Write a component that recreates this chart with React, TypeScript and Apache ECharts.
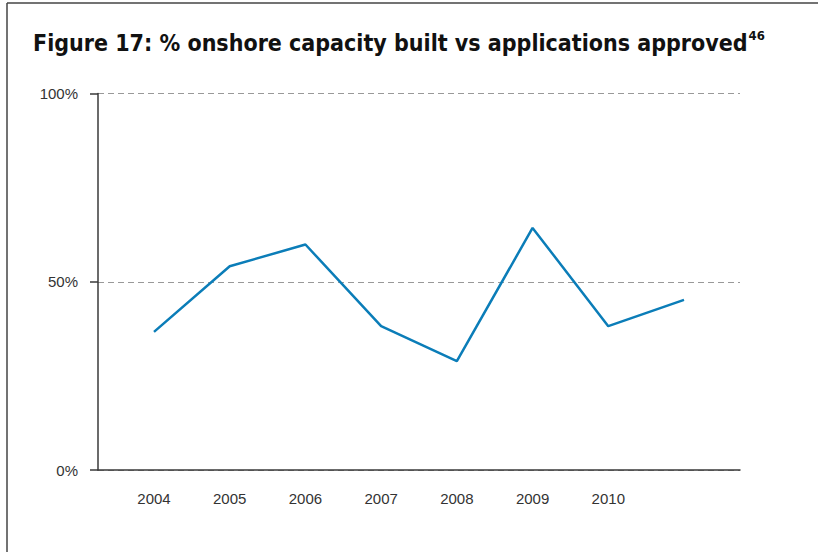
import React, { useEffect, useRef } from 'react';
import * as echarts from 'echarts';

const titleText = 'Figure 17: % onshore capacity built vs applications approved';
const titleNote = '46';
const years = ['2004', '2005', '2006', '2007', '2008', '2009', '2010', ''];
const builtVsApproved = [36.7, 54.1, 59.9, 38.2, 28.9, 64.3, 38.2, 45.2];
const yMin = 0;
const yMax = 100;
const yStep = 50;

export default function App() {
  const ref = useRef<HTMLDivElement>(null);
  useEffect(() => {
    if (!ref.current) return;
    const chart = echarts.init(ref.current, null, { renderer: 'svg' });
    const labelFont = { fontFamily: 'Liberation Sans, Arial, sans-serif', fontSize: 15, color: '#333' };
    chart.setOption({
      animation: false,
      backgroundColor: '#fff',
      title: {
        left: 28,
        top: 24,
        text: `{a|${titleText}}{b|${titleNote}}`,
        textStyle: {
          rich: {
            a: { fontFamily: 'DejaVu Sans Condensed, DejaVu Sans', fontWeight: 'bold', fontSize: 23, color: '#111', lineHeight: 28 },
            b: { fontFamily: 'DejaVu Sans Condensed, DejaVu Sans', fontWeight: 'bold', fontSize: 13, color: '#111', verticalAlign: 'top', lineHeight: 28, padding: [0, 0, 6, 1] },
          },
        },
      },
      graphic: [
        { type: 'line', shape: { x1: 7, y1: 3, x2: 818, y2: 3 }, style: { stroke: '#444', lineWidth: 1.5 } },
        { type: 'line', shape: { x1: 7, y1: 3, x2: 7, y2: 552 }, style: { stroke: '#444', lineWidth: 1.5 } },
      ],
      grid: [
        { left: 98, top: 93.5, width: 642, height: 376.5 },
        { left: 154, top: 93.5, width: 530, height: 376.5 },
      ],
      xAxis: [
        {
          gridIndex: 0,
          type: 'value',
          min: 0,
          max: 1,
          axisLine: { show: true, lineStyle: { color: '#3a3a3a', width: 1.5 } },
          axisTick: { show: false },
          axisLabel: { show: false },
          splitLine: { show: false },
        },
        {
          gridIndex: 1,
          type: 'category',
          data: years,
          boundaryGap: false,
          axisLine: { show: false },
          axisTick: { show: false },
          axisLabel: { ...labelFont, margin: 21, interval: 0 },
          splitLine: { show: false },
        },
      ],
      yAxis: [
        {
          gridIndex: 0,
          type: 'value',
          min: yMin,
          max: yMax,
          interval: yStep,
          axisLine: { show: true, lineStyle: { color: '#3a3a3a', width: 1.5 } },
          axisTick: { show: true, inside: false, length: 8, lineStyle: { color: '#3a3a3a', width: 1.5 } },
          axisLabel: { ...labelFont, margin: 20, formatter: '{value}%' },
          splitLine: { show: true, lineStyle: { color: '#999', type: [6, 4], width: 1 } },
        },
        {
          gridIndex: 1,
          type: 'value',
          min: yMin,
          max: yMax,
          interval: yStep,
          show: false,
          splitLine: { show: false },
        },
      ],
      series: [
        {
          type: 'line',
          xAxisIndex: 1,
          yAxisIndex: 1,
          data: builtVsApproved,
          symbol: 'none',
          lineStyle: { color: '#0b7db8', width: 2.5 },
        },
      ],
    });
    return () => chart.dispose();
  }, []);
  return <div ref={ref} style={{ position: 'fixed', left: 0, top: 0, width: 818, height: 552 }} />;
}
